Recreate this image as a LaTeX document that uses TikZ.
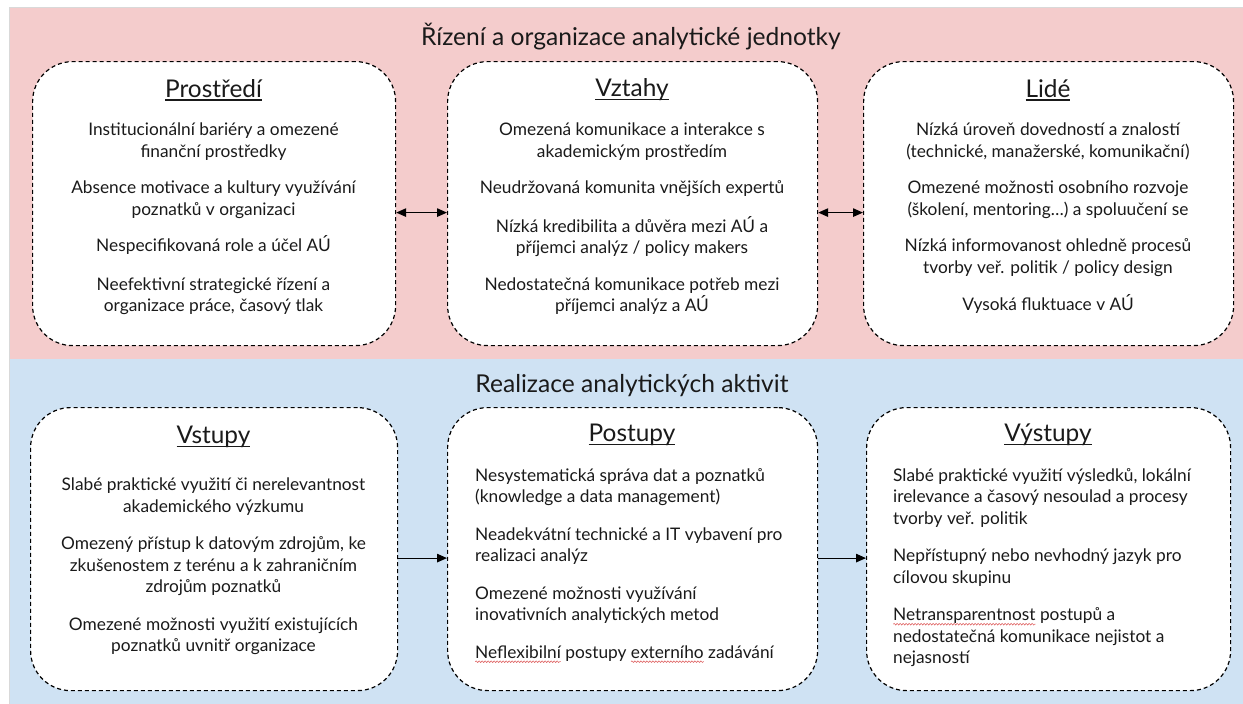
\documentclass[tikz,border=0pt]{standalone}
\usepackage{fontspec}
\setmainfont{Lato}
\usetikzlibrary{arrows.meta,decorations.pathmorphing}

\definecolor{bandred}{HTML}{F4CCCC}
\definecolor{bandblue}{HTML}{CFE2F3}
\definecolor{edgegrey}{HTML}{D9D9D9}
\definecolor{spellred}{HTML}{E06666}
\definecolor{ink}{HTML}{1A1A1A}

\newsavebox\spellbox
\newlength\spellwd

% red wavy underline for words flagged by the spell checker
\newcommand\spellwave[1]{\sbox\spellbox{#1}\setlength\spellwd{\wd\spellbox}%
  \rlap{\tikz[overlay, baseline=0pt, x=1pt, y=1pt]
    \draw[spellred, line width=0.6pt, decorate,
      decoration={snake, amplitude=0.8pt, segment length=3pt}]
      (0,-3.5) -- (\spellwd,-3.5);}%
  \usebox\spellbox}

% plain underline running through the descenders
\newcommand\headline[1]{\sbox\spellbox{#1}%
  \rlap{\rule[-3.2pt]{\wd\spellbox}{1.3pt}}\usebox\spellbox}

\tikzset{
  panel/.style={draw=black, dash pattern=on 4pt off 3pt, line width=1.2pt,
    fill=white, rounded corners=40pt, inner sep=0pt, anchor=north west},
  bandtitle/.style={font=\fontsize{24.6}{28}\selectfont, text=ink, inner sep=0pt},
  paneltitle/.style={font=\fontsize{24.4}{28}\selectfont, text=ink, inner sep=0pt},
  itemtext/.style={font=\fontsize{17.3}{21.5}\selectfont, text=ink, inner sep=0pt},
  link/.style={line width=1.2pt, black},
  tip/.tip={Triangle[length=10pt, width=8.5pt]},
}

\begin{document}
\begin{tikzpicture}[x=1pt, y=-1pt]
  \useasboundingbox (0,0) rectangle (1243,704);
  \fill[white] (0,0) rectangle (1243,704);

  % the two coloured bands
  \fill[bandred] (9,8) rectangle (1243,359);
  \fill[bandblue] (9,359) rectangle (1243,704);
  \draw[edgegrey, line width=1pt] (9,704) -- (9,7.5) -- (1243,7.5);

  \node[bandtitle] (toptitle) at (631,37) {Řízení a organizace analytické jednotky};
  \node[bandtitle] (bottomtitle) at (632,386) {Realizace analytických aktivit};

  % panels of the upper band
  \node[panel, minimum width=363pt, minimum height=284pt] (prostredi) at (32,61) {};
  \node[panel, minimum width=370pt, minimum height=284pt] (vztahy) at (447,61) {};
  \node[panel, minimum width=370pt, minimum height=284pt] (lide) at (863,61) {};

  % panels of the lower band
  \node[panel, minimum width=367pt, minimum height=283pt] (vstupy) at (30,407) {};
  \node[panel, minimum width=370pt, minimum height=283pt] (postupy) at (447,407) {};
  \node[panel, minimum width=364pt, minimum height=283pt] (vystupy) at (866,407) {};

  % panel headings
  \node[paneltitle] (h-prostredi) at (213.5,90) {\headline{Prostředí}};
  \node[paneltitle] (h-vztahy) at (632,90) {\headline{Vztahy}};
  \node[paneltitle] (h-lide) at (1048,90) {\headline{Lidé}};
  \node[paneltitle] (h-vstupy) at (213.5,437) {\headline{Vstupy}};
  \node[paneltitle] (h-postupy) at (632,435) {\headline{Postupy}};
  \node[paneltitle] (h-vystupy) at (1048,435) {\headline{Výstupy}};

  % panel contents
  \node[itemtext, align=center, anchor=north] (t-prostredi) at (213.5,123) {%
    Institucionální bariéry a omezené\\ finanční prostředky\\[15pt]
    Absence motivace a kultury využívání\\ poznatků v organizaci\\[15pt]
    Nespecifikovaná role a účel AÚ\\[17pt]
    Neefektivní strategické řízení a\\ organizace práce, časový tlak};

  \node[itemtext, align=center, anchor=north] (t-vztahy) at (632,123) {%
    Omezená komunikace a interakce s\\ akademickým prostředím\\[15pt]
    Neudržovaná komunita vnějších expertů\\[17pt]
    Nízká kredibilita a důvěra mezi AÚ a\\ příjemci analýz / policy makers\\[15pt]
    Nedostatečná komunikace potřeb mezi\\ příjemci analýz a AÚ};

  \node[itemtext, align=center, anchor=north] (t-lide) at (1048,123) {%
    Nízká úroveň dovedností a znalostí\\ (technické, manažerské, komunikační)\\[15pt]
    Omezené možnosti osobního rozvoje\\ (školení, mentoring…) a spoluučení se\\[15pt]
    Nízká informovanost ohledně procesů\\ tvorby veř. politik / policy design\\[16pt]
    Vysoká fluktuace v AÚ};

  \node[itemtext, align=center, anchor=north] (t-vstupy) at (213.5,478) {%
    Slabé praktické využití či nerelevantnost\\ akademického výzkumu\\[16pt]
    Omezený přístup k datovým zdrojům, ke\\ zkušenostem z terénu a k zahraničním\\ zdrojům poznatků\\[16pt]
    Omezené možnosti využití existujících\\ poznatků uvnitř organizace};

  \node[itemtext, align=left, anchor=north west] (t-postupy) at (475,468) {%
    Nesystematická správa dat a poznatků\\ (knowledge a data management)\\[16pt]
    Neadekvátní technické a IT vybavení pro\\ realizaci analýz\\[16pt]
    Omezené možnosti využívání\\ inovativních analytických metod\\[16pt]
    \spellwave{Neflexibilní} postupy \spellwave{externího} zadávání};

  \node[itemtext, align=left, anchor=north west] (t-vystupy) at (893,468) {%
    Slabé praktické využití výsledků, lokální\\ irelevance a časový nesoulad a procesy\\ tvorby veř. politik\\[16pt]
    Nepřístupný nebo nevhodný jazyk pro\\ cílovou skupinu\\[16pt]
    \spellwave{Netransparentnost} postupů a\\ nedostatečná komunikace nejistot a\\ nejasností};

  % connectors between panels
  \draw[link, {tip}-{tip}] ([yshift=-9pt]prostredi.east) -- ([yshift=-9pt]vztahy.west);
  \draw[link, {tip}-{tip}] ([yshift=-9pt]vztahy.east) -- ([yshift=-9pt]lide.west);
  \draw[link, -{tip}] ([yshift=-9pt]vstupy.east) -- ([yshift=-9pt]postupy.west);
  \draw[link, -{tip}] ([yshift=-9pt]postupy.east) -- ([yshift=-9pt]vystupy.west);
\end{tikzpicture}
\end{document}
